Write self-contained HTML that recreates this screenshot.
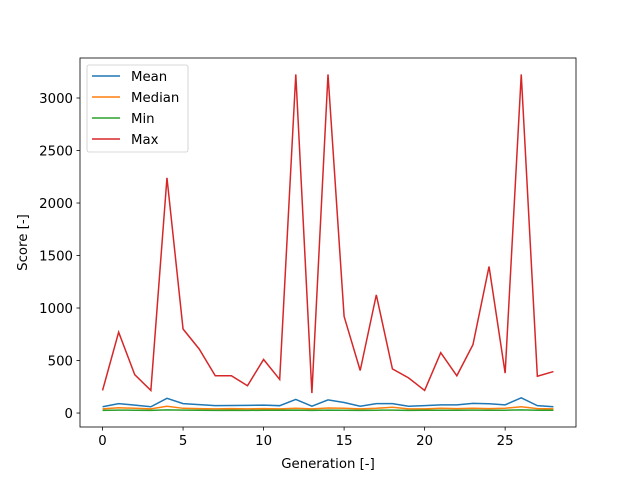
<!DOCTYPE html>
<html><head><meta charset="utf-8"><style>
body{margin:0;background:#fff;font-family:"DejaVu Sans","Liberation Sans",sans-serif;}
svg text{font-family:"DejaVu Sans","Liberation Sans",sans-serif;font-size:13.3px;fill:#000;}
</style></head><body>
<svg id="chart" width="640" height="480" xmlns="http://www.w3.org/2000/svg"></svg>
<script>
const generations=[0,1,2,3,4,5,6,7,8,9,10,11,12,13,14,15,16,17,18,19,20,21,22,23,24,25,26,27,28];
const meanVals=[60,90,75,60,140,90,80,70,72,73,75,70,130,65,125,100,65,90,90,65,70,78,78,92,88,78,145,70,60];
const medianVals=[40,50,45,40,65,45,42,40,42,40,42,40,45,40,48,45,40,45,55,40,40,45,42,45,42,45,60,42,40];
const minVals=[25,28,27,25,30,28,27,25,27,25,27,26,28,25,28,27,25,27,28,25,26,27,27,28,27,27,30,27,26];
const maxVals=[215,770,365,215,2240,800,610,355,355,260,510,320,3225,190,3225,920,405,1125,420,335,215,575,355,650,1395,380,3225,350,395];
const xTicks=[0,5,10,15,20,25];
const yTicks=[0,500,1000,1500,2000,2500,3000];
const seriesNames=["Mean","Median","Min","Max"];
const seriesColors=["#1f77b4","#ff7f0e","#2ca02c","#d62728"];
const L=80,R=576,T=58,B=427;
const xMin=-1.4,xMax=29.4,yMin=-133,yMax=3381;
const sx=v=>L+(v-xMin)/(xMax-xMin)*(R-L);
const sy=v=>B-(v-yMin)/(yMax-yMin)*(B-T);
const svg=document.getElementById('chart');
const NS="http://www.w3.org/2000/svg";
function mk(tag,attrs,parent){const e=document.createElementNS(NS,tag);for(const k in attrs)e.setAttribute(k,attrs[k]);(parent||svg).appendChild(e);return e;}
xTicks.forEach(t=>{
  const g=mk('g',{});
  
  
  mk('line',{x1:sx(t),x2:sx(t),y1:B,y2:B+3.5,stroke:'#000','stroke-width':0.8},g);
  const tx=mk('text',{x:sx(t),y:B+18,'text-anchor':'middle'},g);tx.textContent=t;
});
yTicks.forEach(t=>{
  const g=mk('g',{});
  
  
  mk('line',{x1:L-3.5,x2:L,y1:sy(t),y2:sy(t),stroke:'#000','stroke-width':0.8},g);
  const tx=mk('text',{x:L-7,y:sy(t)+5,'text-anchor':'end'},g);tx.textContent=t;
});
const all=[meanVals,medianVals,minVals,maxVals];
all.forEach((vals,i)=>{
  const p=mk('polyline',{points:vals.map((v,j)=>sx(generations[j])+','+sy(v)).join(' '),fill:'none',stroke:seriesColors[i],'stroke-width':1.5});
  
  
});
const frame=mk('rect',{x:L,y:T,width:R-L,height:B-T,fill:'none',stroke:'#000','stroke-width':0.8});


const xl=mk('text',{x:(L+R)/2,y:468,'text-anchor':'middle'});xl.textContent='Generation [-]';


const yl=mk('text',{x:0,y:0,'text-anchor':'middle',transform:'translate(27,'+((T+B)/2)+') rotate(-90)'});yl.textContent='Score [-]';


const lg=mk('g',{});


mk('rect',{x:87,y:65,width:101,height:87,rx:2,fill:'#fff',stroke:'#ccc','stroke-width':0.8},lg);
seriesNames.forEach((n,i)=>{
  const e=mk('g',{},lg);
  
  
  const y=76+i*21;
  mk('line',{x1:92,x2:120,y1:y,y2:y,stroke:seriesColors[i],'stroke-width':1.5},e);
  const t=mk('text',{x:131,y:y+5},e);t.textContent=n;
});
</script>
</body></html>
